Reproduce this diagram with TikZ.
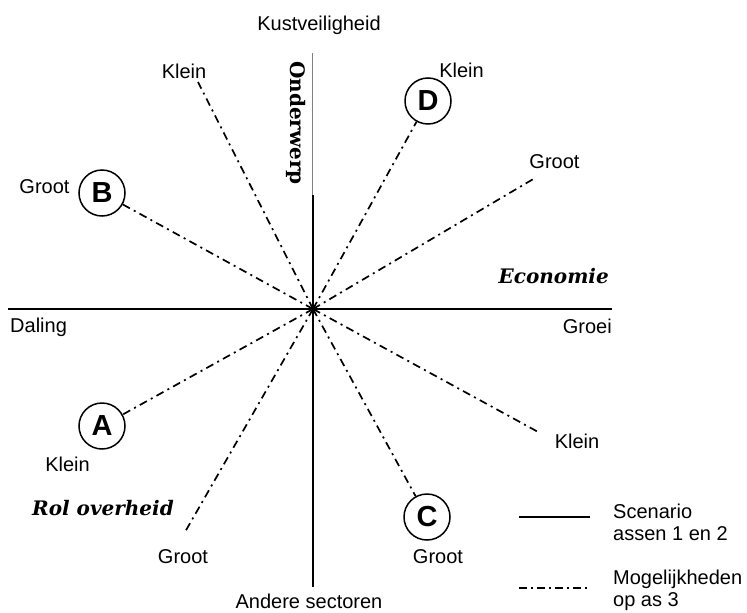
\documentclass[tikz,border=0pt]{standalone}
\usepackage{fontspec}
\setmainfont{Liberation Sans}
\newfontfamily\themefont{DejaVu Serif}
\begin{document}
\begin{tikzpicture}[x=1pt,y=-1pt,
  lbl/.style={font=\fontsize{20}{22}\selectfont, inner sep=0pt, anchor=base},
  scen/.style={draw, circle, line width=1.5pt, minimum size=46pt, inner sep=0pt,
    font=\fontsize{29}{29}\selectfont\bfseries},
  axisline/.style={line width=2.2pt},
  optline/.style={line width=1.7pt, dash pattern=on 8pt off 4.5pt on 2pt off 4.5pt},
  theme/.style={font=\themefont\bfseries\itshape\fontsize{20}{22}\selectfont, inner sep=0pt},
  uptheme/.style={font=\themefont\bfseries\fontsize{20}{22}\selectfont, inner sep=0pt}
]
\useasboundingbox (0,0) rectangle (747,613);

% axes
\coordinate (O) at (313,309);
\coordinate (W) at (8,309);
\coordinate (E) at (612,309);
\coordinate (N) at (313,195);
\coordinate (S) at (313,587);
\coordinate (Ntop) at (312,53);
\coordinate (Nbox) at (312,195);
\draw[axisline] (W) -- (E);
\draw[axisline] (N) -- (S);
\draw[gray, line width=0.7pt] (Ntop) -- (Nbox);

% scenarios
\node[scen] (B) at (102,193) {B};
\node[scen] (A) at (102,426) {A};
\node[scen] (C) at (427,517) {C};
\node[scen] (D) at (428,101) {D};

% free ends of the third axis options
\coordinate (kNW) at (198,82);
\coordinate (gNE) at (535,178);
\coordinate (gSW) at (185,532);
\coordinate (kSE) at (540,433);

\draw[optline] (O) -- (kNW);
\draw[optline] (O) -- (D);
\draw[optline] (O) -- (gNE);
\draw[optline] (O) -- (B);
\draw[optline] (O) -- (A);
\draw[optline] (O) -- (gSW);
\draw[optline] (O) -- (C);
\draw[optline] (O) -- (kSE);

% labels
\node[lbl] (kust) at (319,30) {Kustveiligheid};
\node[lbl] (andere) at (309,608) {Andere sectoren};
\node[lbl, anchor=base west] (daling) at (10,332) {Daling};
\node[lbl, anchor=base east] (groei) at (612,333) {Groei};
\node[lbl] (lkNW) at (184,78) {Klein};
\node[lbl] (lkD) at (461.5,77) {Klein};
\node[lbl] (lgNE) at (554.5,168) {Groot};
\node[lbl] (lgB) at (44.5,193) {Groot};
\node[lbl] (lkA) at (67.5,471) {Klein};
\node[lbl] (lgSW) at (183,563) {Groot};
\node[lbl] (lgC) at (438,563) {Groot};
\node[lbl] (lkSE) at (577,448) {Klein};

% axis themes
\node[uptheme, rotate=-90] (onderwerp) at (296,123) {Onderwerp};
\node[theme, anchor=base east] (economie) at (609,283) {Economie};
\node[theme, anchor=base west] (rol) at (32,515) {Rol overheid};

% legend
\coordinate (l1a) at (519,517);
\coordinate (l1b) at (590,517);
\coordinate (l2a) at (519,588);
\coordinate (l2b) at (590,588);
\draw[line width=1.5pt] (l1a) -- (l1b);
\draw[line width=1.5pt, dash pattern=on 8pt off 4pt on 2pt off 4pt] (l2a) -- (l2b);
\node[lbl, anchor=base west] (leg1a) at (613,518) {Scenario};
\node[lbl, anchor=base west] (leg1b) at (613,540) {assen 1 en 2};
\node[lbl, anchor=base west] (leg2a) at (613,584) {Mogelijkheden};
\node[lbl, anchor=base west] (leg2b) at (613,606) {op as 3};
\end{tikzpicture}
\end{document}
